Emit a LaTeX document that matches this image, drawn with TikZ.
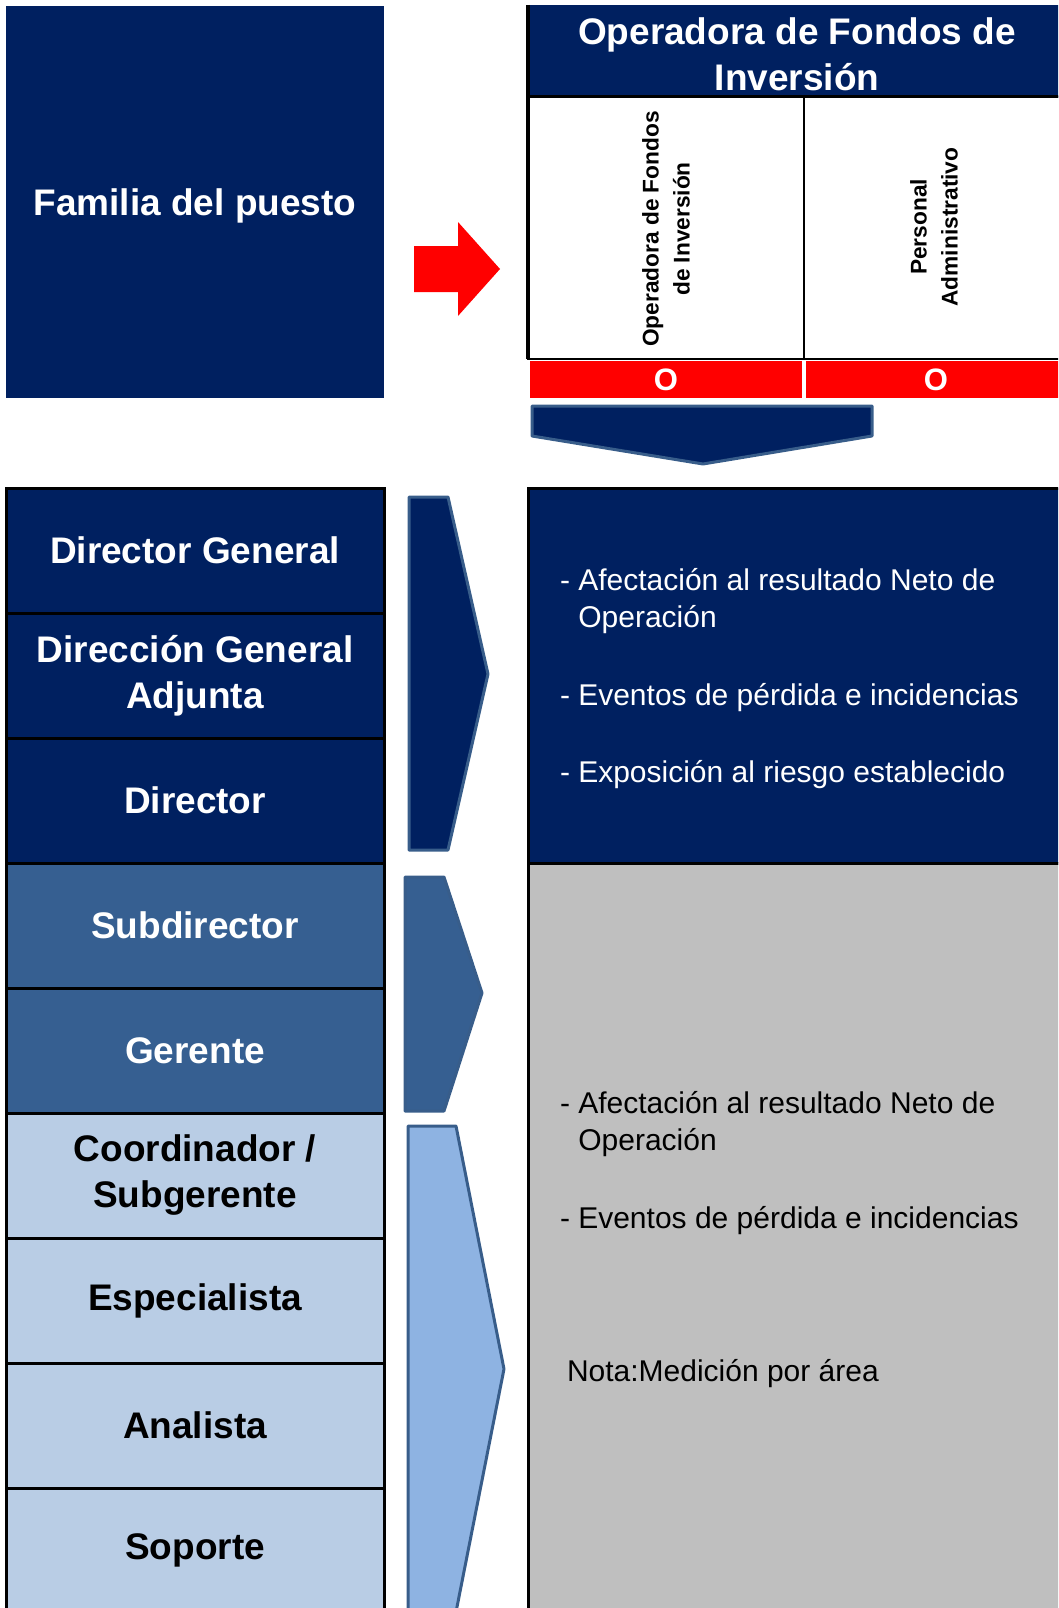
\documentclass[tikz,border=0pt]{standalone}
\usepackage{fontspec}
\setmainfont{Liberation Sans}
\usetikzlibrary{positioning,calc}
\definecolor{navy}{RGB}{0,32,96}
\definecolor{midblue}{RGB}{54,95,145}
\definecolor{paleblue}{RGB}{185,205,229}
\definecolor{chevlight}{RGB}{142,179,226}
\definecolor{chevedge}{RGB}{56,93,138}
\definecolor{panelgray}{RGB}{191,191,191}
\newcommand{\bigbold}{\bfseries\fontsize{37}{46}\selectfont}
\newcommand{\colbold}{\bfseries\fontsize{22.7}{31}\selectfont}
\newcommand{\listtext}{\fontsize{30}{37}\selectfont}

\begin{document}
\begin{tikzpicture}[x=1pt,y=-1pt]
    \tikzstyle{every node}=[inner sep=0pt, outer sep=0pt, align=center]
    \tikzstyle{rank}=[draw=black, line width=3pt, minimum width=378pt, minimum height=125pt, font=\bigbold]
    \tikzstyle{toprank}=[rank, fill=navy, text=white]
    \tikzstyle{midrank}=[rank, fill=midblue, text=white]
    \tikzstyle{lowrank}=[rank, fill=paleblue, text=black]
    \tikzstyle{colcell}=[draw=black, line width=2pt, fill=white, minimum height=262pt]
    \tikzstyle{redcell}=[fill=red, text=white, minimum height=37pt, font=\bfseries\fontsize{31}{37}\selectfont]
    \tikzstyle{chev}=[draw=chevedge, line width=3pt, line join=round]
    \tikzstyle{item}=[anchor=west, align=left, font=\listtext]
    \useasboundingbox (0,0) rectangle (1058,1608);
    \clip (0,0) rectangle (1058,1608);
    % top part
    \node[fill=navy, text=white, font=\bigbold, minimum width=378pt, minimum height=392pt] (familia) at (195,202) {}; %
    \node[text=white, font=\bigbold] (familiaText) at (195,206) {Familia del puesto}; %
    \fill[red] (414,246) -- (458,246) -- (458,222) -- (500,269) -- (458,316) -- (458,292) -- (414,292) -- cycle; %
    \node[fill=navy, minimum width=538pt, minimum height=92pt] (fondos) at (797,51) {}; %
    \node[text=white, font=\bigbold] (fondosText) at (797,54) {Operadora de Fondos de\\Inversión}; %
    \node[colcell, minimum width=276pt] (colA) at (666,228) {}; %
    \node[colcell, minimum width=262pt] (colB) at (935,228) {}; %
    \node[rotate=90, font=\colbold] (lblA) at (666,229) {Operadora de Fondos\\de Inversión}; %
    \node[rotate=90, font=\colbold] (lblB) at (934,227) {Personal\\Administrativo}; %
    \draw[line width=4pt] (fondos.north west) -- (colA.south west); %
    \draw[line width=3pt] (fondos.south west) -- (fondos.south east); %
    \node[redcell, minimum width=272pt] (markA) at (666,379.5) {O}; %
    \node[redcell, minimum width=260pt] (markB) at (936,379.5) {O}; %
    \draw[chev, fill=navy] (532,406) -- (872,406) -- (872,436) -- (703,464) -- (532,436) -- cycle; %
    % levels
    \node[toprank, anchor=north] (dg) at (195,488) {Director General}; %
    \node[toprank, below=0pt of dg] (dga) {Dirección General\\Adjunta}; %
    \node[toprank, below=0pt of dga] (dir) {Director}; %
    \node[midrank, below=0pt of dir] (sub) {Subdirector}; %
    \node[midrank, below=0pt of sub] (ger) {Gerente}; %
    \node[lowrank, below=0pt of ger] (coord) {Coordinador /\\Subgerente}; %
    \node[lowrank, below=0pt of coord] (esp) {Especialista}; %
    \node[lowrank, below=0pt of esp] (ana) {Analista}; %
    \node[lowrank, below=0pt of ana] (sop) {Soporte}; %
    \draw[chev, fill=navy] (409,497) -- (448,497) -- (488,674) -- (448,850) -- (409,850) -- cycle; %
    \draw[chev, fill=midblue] (405,877) -- (444,877) -- (482,993) -- (444,1111) -- (405,1111) -- cycle; %
    \draw[chev, fill=chevlight] (408,1126) -- (456,1126) -- (504,1369) -- (456,1612) -- (408,1612) -- cycle; %
    % measures
    \node[draw=black, line width=3pt, fill=navy, minimum width=540pt, minimum height=375pt, anchor=north west] (upper) at (528,488) {}; %
    \node[draw=black, line width=3pt, fill=panelgray, minimum width=540pt, minimum height=750pt, below=0pt of upper] (lower) {}; %
    \node[item, text=white] (upA) at ($(upper.north west)+(32,113.5)$) {- Afectación al resultado Neto de\\\hphantom{- }Operación}; %
    \node[item, text=white] (upB) at ($(upper.north west)+(32,210)$) {- Eventos de pérdida e incidencias}; %
    \node[item, text=white] (upC) at ($(upper.north west)+(32,287)$) {- Exposición al riesgo establecido}; %
    \node[item] (lowA) at ($(lower.north west)+(32,261.5)$) {- Afectación al resultado Neto de\\\hphantom{- }Operación}; %
    \node[item] (lowB) at ($(lower.north west)+(32,358)$) {- Eventos de pérdida e incidencias}; %
    \node[item] (nota) at ($(lower.north west)+(39,511)$) {Nota:Medición por área}; %
\end{tikzpicture}
\end{document}
